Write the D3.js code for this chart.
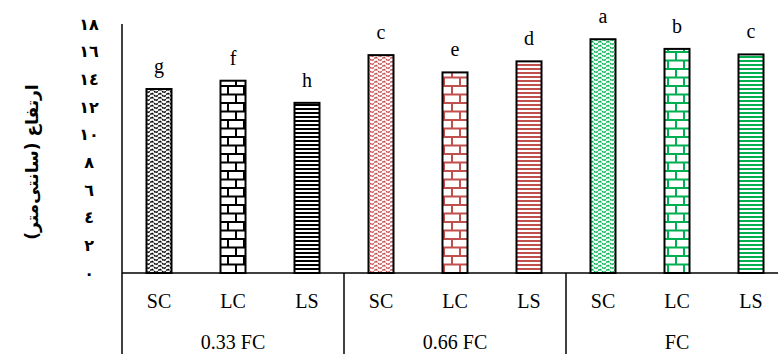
<!DOCTYPE html>
<html><head><meta charset="utf-8">
<script src="https://cdn.jsdelivr.net/npm/d3@7/dist/d3.min.js"></script>
<style>body{margin:0;background:#fff;}svg{display:block;}</style>
</head><body>
<svg id="c" width="778" height="354"></svg>
<script>
const groups = ["0.33 FC", "0.66 FC", "FC"];
const types = ["SC", "LC", "LS"];
const values = [
  [13.3, 13.9, 12.3],
  [15.75, 14.5, 15.3],
  [16.9, 16.2, 15.8]
];
const letters = [
  ["g", "f", "h"],
  ["c", "e", "d"],
  ["a", "b", "c"]
];
const groupColors = ["#000000", "#c0504d", "#00b050"];
const yTicks = [0, 2, 4, 6, 8, 10, 12, 14, 16, 18];
const yTickLabels = ["٠", "٢", "٤", "٦", "٨", "١٠", "١٢", "١٤", "١٦", "١٨"];
const yTitle = "ارتفاع (سانتی‌متر)";

const svg = d3.select("#c");
const W = 778, H = 354;
const mLeft = 122, mRight = 788, mTop = 24, mBase = 273;

const rows = [];
groups.forEach((g, gi) => types.forEach((t, ti) => rows.push({
  g, gi, t, ti, v: values[gi][ti], l: letters[gi][ti], key: gi * 3 + ti
})));

const x = d3.scaleBand().domain(rows.map(d => d.key)).range([mLeft, mRight])
  .paddingInner(0.662).paddingOuter(0.331);
const y = d3.scaleLinear().domain([0, 18]).range([mBase, mTop]);
const step = x.step();

// patterns
const defs = svg.append("defs");
groupColors.forEach((c, gi) => {
  const z = defs.append("pattern").attr("id", "zz" + gi).attr("patternUnits", "userSpaceOnUse")
    .attr("width", 8).attr("height", 8);
  z.append("rect").attr("width", 8).attr("height", 8).attr("fill", "#fff");
  z.append("path").attr("d", "M0,1 L4,5 L8,1 M0,5 L4,9 L8,5 M0,-3 L4,1 L8,-3")
    .attr("fill", "none").attr("stroke", c).attr("stroke-width", 1.5).attr("stroke-dasharray", "2,1");
  const b = defs.append("pattern").attr("id", "br" + gi).attr("patternUnits", "userSpaceOnUse")
    .attr("width", 16).attr("height", 17);
  b.append("rect").attr("width", 16).attr("height", 17).attr("fill", "#fff");
  b.append("path").attr("d", "M0,1 H16 M0,9.5 H16 M4,1 V9.5 M12,9.5 V17")
    .attr("fill", "none").attr("stroke", c).attr("stroke-width", 2);
  const h = defs.append("pattern").attr("id", "hl" + gi).attr("patternUnits", "userSpaceOnUse")
    .attr("width", 8).attr("height", 4);
  h.append("rect").attr("width", 8).attr("height", 4).attr("fill", "#fff");
  h.append("rect").attr("y", 0).attr("width", 8).attr("height", 2).attr("fill", c);
});
const patIds = ["zz", "br", "hl"];

// bars
svg.append("g").selectAll("rect").data(rows).join("rect")
  .attr("x", d => x(d.key)).attr("width", x.bandwidth())
  .attr("y", d => y(d.v)).attr("height", d => y(0) - y(d.v))
  .attr("fill", d => `url(#${patIds[d.ti]}${d.gi})`)
  .attr("stroke", "#000").attr("stroke-width", 2);

// significance letters
svg.append("g").selectAll("text").data(rows).join("text")
  .attr("x", d => x(d.key) + x.bandwidth() / 2).attr("y", d => y(d.v) - 16)
  .attr("text-anchor", "middle").attr("font-family", "Liberation Serif, Times New Roman, serif")
  .attr("font-size", 20).attr("fill", "#000").text(d => d.l);

// y axis
const ya = svg.append("g").attr("transform", `translate(${mLeft},0)`)
  .call(d3.axisLeft(y).tickValues(yTicks).tickSize(0).tickFormat((d, i) => yTickLabels[i]));
ya.select(".domain").remove();
ya.selectAll("text").attr("x", -33).attr("text-anchor", "middle")
  .attr("font-family", "DejaVu Sans, sans-serif").attr("font-weight", "bold")
  .attr("font-size", 16).attr("fill", "#000");

// axis lines
svg.append("line").attr("x1", mLeft).attr("x2", mLeft).attr("y1", mTop).attr("y2", H)
  .attr("stroke", "#000").attr("stroke-width", 1.5);
svg.append("line").attr("x1", mLeft).attr("x2", W).attr("y1", mBase).attr("y2", mBase)
  .attr("stroke", "#000").attr("stroke-width", 1.5);
[1, 2].forEach(gi => {
  const sx = x(gi * 3) - x.paddingOuter() * step;
  svg.append("line").attr("x1", sx).attr("x2", sx).attr("y1", mBase).attr("y2", H)
    .attr("stroke", "#000").attr("stroke-width", 1.5);
});

// category labels
svg.append("g").selectAll("text").data(rows).join("text")
  .attr("x", d => x(d.key) + x.bandwidth() / 2).attr("y", 308)
  .attr("text-anchor", "middle").attr("font-family", "Liberation Serif, Times New Roman, serif")
  .attr("font-size", 20).attr("fill", "#000").text(d => d.t);

// group labels
svg.append("g").selectAll("text").data(groups).join("text")
  .attr("x", (d, gi) => x(gi * 3) - x.paddingOuter() * step + 1.5 * step).attr("y", 349)
  .attr("text-anchor", "middle").attr("font-family", "Liberation Serif, Times New Roman, serif")
  .attr("font-size", 20).attr("fill", "#000").text(d => d);

// y title
svg.append("text").attr("transform", "translate(38,162) rotate(-90)")
  .attr("text-anchor", "middle").attr("direction", "rtl")
  .attr("font-family", "DejaVu Sans, sans-serif").attr("font-weight", "bold")
  .attr("font-size", 17).attr("fill", "#000").text(yTitle);
</script>
</body></html>
